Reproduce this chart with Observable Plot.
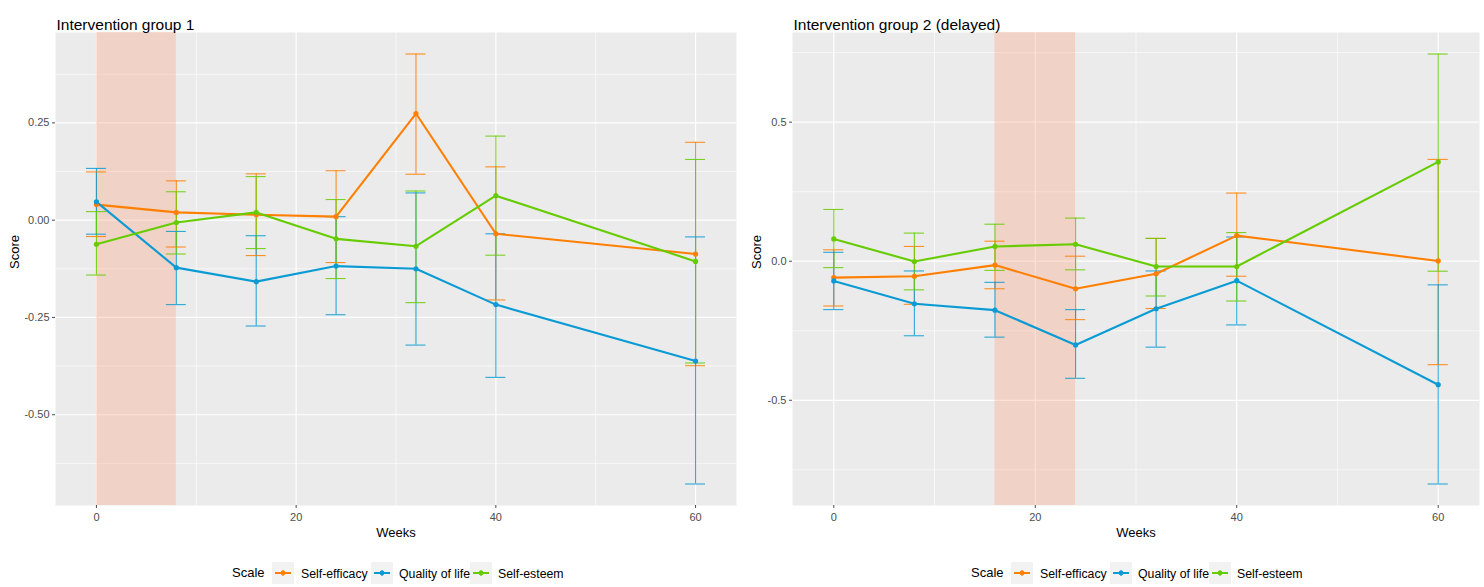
<!DOCTYPE html>
<html><head><meta charset="utf-8">
<script src="https://cdn.jsdelivr.net/npm/d3@7"></script>
<script src="https://cdn.jsdelivr.net/npm/@observablehq/plot@0.6"></script>
<style>
body{margin:0;background:#fff;}
#wrap{position:relative;width:1484px;height:587px;font-family:"Liberation Sans",Arial,sans-serif;overflow:hidden;}
.panel{position:absolute;top:0;}
.leg{position:absolute;top:562px;height:22px;font-size:12.3px;color:#000;}
.leg .it{position:absolute;top:0;height:22px;line-height:22px;white-space:nowrap;}
.leg .ttl{font-size:13px;}
.leg svg{display:block;}
</style></head>
<body><div id="wrap"></div>
<script>
// ---- data ----
const weeks = [0, 8, 16, 24, 32, 40, 60];
const scales = ["Self-efficacy", "Quality of life", "Self-esteem"];
const colors = ["#FF7F00", "#0A9BD4", "#66CC00"];
const titles = ["Intervention group 1", "Intervention group 2 (delayed)"];
const shade1 = [0, 8];
const shade2 = [16, 24];

// Group 1
const g1EfficacyMean = [0.040, 0.020, 0.014, 0.009, 0.274, -0.035, -0.087];
const g1EfficacyLo   = [-0.042, -0.069, -0.091, -0.109, 0.118, -0.205, -0.374];
const g1EfficacyHi   = [0.124, 0.101, 0.119, 0.127, 0.427, 0.137, 0.200];
const g1QolMean      = [0.047, -0.122, -0.158, -0.118, -0.125, -0.217, -0.362];
const g1QolLo        = [-0.036, -0.217, -0.272, -0.243, -0.321, -0.404, -0.678];
const g1QolHi        = [0.133, -0.029, -0.040, 0.009, 0.070, -0.035, -0.043];
const g1EsteemMean   = [-0.062, -0.006, 0.020, -0.048, -0.067, 0.063, -0.106];
const g1EsteemLo     = [-0.141, -0.087, -0.073, -0.150, -0.212, -0.090, -0.367];
const g1EsteemHi     = [0.022, 0.073, 0.112, 0.053, 0.075, 0.216, 0.156];

// Group 2 (delayed)
const g2EfficacyMean = [-0.059, -0.054, -0.014, -0.099, -0.045, 0.092, 0.001];
const g2EfficacyLo   = [-0.161, -0.155, -0.099, -0.210, -0.170, -0.054, -0.372];
const g2EfficacyHi   = [0.041, 0.053, 0.072, 0.018, 0.082, 0.245, 0.366];
const g2QolMean      = [-0.071, -0.153, -0.176, -0.301, -0.171, -0.070, -0.444];
const g2QolLo        = [-0.174, -0.268, -0.273, -0.421, -0.309, -0.229, -0.801];
const g2QolHi        = [0.032, -0.035, -0.076, -0.174, -0.035, 0.087, -0.085];
const g2EsteemMean   = [0.080, -0.001, 0.053, 0.061, -0.019, -0.019, 0.357];
const g2EsteemLo     = [-0.023, -0.103, -0.033, -0.031, -0.125, -0.143, -0.036];
const g2EsteemHi     = [0.186, 0.101, 0.133, 0.155, 0.082, 0.103, 0.745];

const xMajor = [0, 20, 40, 60];
const xMinor = [10, 30, 50];
const y1Major = [-0.5, -0.25, 0, 0.25];
const y1Minor = [-0.625, -0.375, -0.125, 0.125, 0.375];
const y2Major = [-0.5, 0, 0.5];
const y2Minor = [-0.75, -0.25, 0.25, 0.75];

// ---- build tables ----
function rowsFor(series) {
  const out = [];
  series.forEach(([name, mean, lo, hi]) => {
    weeks.forEach((w, i) => out.push({week: w, scale: name, mean: mean[i], lo: lo[i], hi: hi[i]}));
  });
  return out;
}
const rows1 = rowsFor([
  [scales[0], g1EfficacyMean, g1EfficacyLo, g1EfficacyHi],
  [scales[1], g1QolMean, g1QolLo, g1QolHi],
  [scales[2], g1EsteemMean, g1EsteemLo, g1EsteemHi]
]);
const rows2 = rowsFor([
  [scales[0], g2EfficacyMean, g2EfficacyLo, g2EfficacyHi],
  [scales[1], g2QolMean, g2QolLo, g2QolHi],
  [scales[2], g2EsteemMean, g2EsteemLo, g2EsteemHi]
]);

const capHalf = 1;
const FONT = '"Liberation Sans", Arial, sans-serif';

function panel(rows, o) {
  const ylo = d3.min(rows, d => d.lo), yhi = d3.max(rows, d => d.hi);
  const yp = (yhi - ylo) * 0.05;
  const xlo = d3.min(weeks) - capHalf, xhi = d3.max(weeks) + capHalf;
  const xp = (xhi - xlo) * 0.05;
  const grid = {stroke: "#ffffff", strokeOpacity: 1};
  const bar = {stroke: "scale", strokeWidth: 1.1, strokeOpacity: 0.85};
  return Plot.plot({
    width: 742, height: 587,
    marginLeft: o.ml, marginRight: o.mr, marginTop: 32, marginBottom: 82,
    style: {fontFamily: FONT, background: "transparent", overflow: "visible"},
    x: {domain: [xlo - xp, xhi + xp]},
    y: {domain: [ylo - yp, yhi + yp]},
    color: {domain: scales, range: colors},
    marks: [
      Plot.frame({fill: "#EBEBEB", stroke: null}),
      Plot.gridX({ticks: xMinor, ...grid, strokeWidth: 0.6}),
      Plot.gridY({ticks: o.yMinor, ...grid, strokeWidth: 0.6}),
      Plot.gridX({ticks: xMajor, ...grid, strokeWidth: 1.2}),
      Plot.gridY({ticks: o.yMajor, ...grid, strokeWidth: 1.2}),
      Plot.rect([{start: o.shade[0], end: o.shade[1]}], {x1: "start", x2: "end", fill: "#FFA07A", fillOpacity: 0.32}),
      Plot.ruleX(rows, {x: "week", y1: "lo", y2: "hi", ...bar}),
      Plot.ruleY(rows, {y: "lo", x1: d => d.week - capHalf, x2: d => d.week + capHalf, ...bar}),
      Plot.ruleY(rows, {y: "hi", x1: d => d.week - capHalf, x2: d => d.week + capHalf, ...bar}),
      Plot.line(rows, {x: "week", y: "mean", z: "scale", stroke: "scale", strokeWidth: 2.1}),
      Plot.dot(rows, {x: "week", y: "mean", fill: "scale", r: 2.6}),
      Plot.axisX({ticks: xMajor, tickSize: 3, tickPadding: 5, fontSize: 11, color: "#4D4D4D", label: null}),
      Plot.axisY({ticks: o.yMajor, tickFormat: o.fmt, tickSize: 3, tickPadding: 3, fontSize: 11, color: "#4D4D4D", label: null}),
      Plot.text(["Score"], {text: d => d, frameAnchor: "left", dx: -(o.ml - 14), rotate: -90, fontSize: 13, fill: "#000"}),
      Plot.text(["Weeks"], {text: d => d, frameAnchor: "bottom", dy: 31, fontSize: 13, fill: "#000"}),
      Plot.text([o.title], {text: d => d, frameAnchor: "top-left", dy: -14, dx: 1, textAnchor: "start", fontSize: 15.5, fill: "#000"})
    ]
  });
}

const wrap = document.getElementById("wrap");
const p1 = panel(rows1, {ml: 55, mr: 6, yMajor: y1Major, yMinor: y1Minor, fmt: d => d.toFixed(2), shade: shade1, title: titles[0]});
const p2 = panel(rows2, {ml: 50, mr: 5, yMajor: y2Major, yMinor: y2Minor, fmt: d => d.toFixed(1), shade: shade2, title: titles[1]});
p1.classList.add("panel"); p1.style.left = "0px";
p2.classList.add("panel"); p2.style.left = "742px";
wrap.appendChild(p1); wrap.appendChild(p2);

function legend(x0) {
  const leg = document.createElement("div");
  leg.className = "leg";
  leg.style.left = x0 + "px";
  const t = document.createElement("div");
  t.className = "it ttl"; t.style.left = "0px"; t.textContent = "Scale";
  leg.appendChild(t);
  const boxX = [40, 139, 238];
  const labX = [69, 167, 266];
  scales.forEach((s, i) => {
    const b = document.createElement("div");
    b.className = "it"; b.style.left = boxX[i] + "px";
    b.innerHTML = `<svg width="22" height="22"><rect width="22" height="22" fill="#F2F2F2"/>` +
      `<line x1="3" x2="19" y1="11" y2="11" stroke="${colors[i]}" stroke-width="2"/>` +
      `<line x1="11" x2="11" y1="8" y2="14" stroke="${colors[i]}" stroke-width="1"/>` +
      `<circle cx="11" cy="11" r="2.4" fill="${colors[i]}"/></svg>`;
    leg.appendChild(b);
    const l = document.createElement("div");
    l.className = "it"; l.style.left = labX[i] + "px"; l.style.top = "1px"; l.textContent = s;
    leg.appendChild(l);
  });
  wrap.appendChild(leg);
}
legend(232);
legend(971);
</script>
</body></html>
